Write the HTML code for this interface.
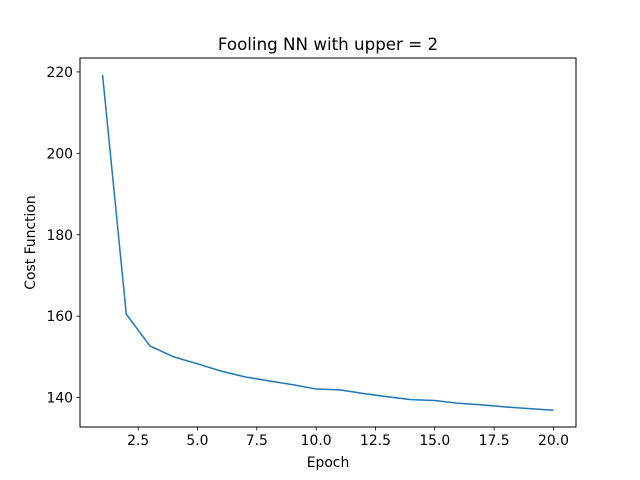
<!DOCTYPE html>
<html><head><meta charset="utf-8"><style>
body{margin:0;background:#fff}
svg{display:block;font-family:"DejaVu Sans","Liberation Sans",sans-serif}
</style></head><body>
<svg id="chart" width="640" height="480" viewBox="0 0 640 480"></svg>
<script>
const epochs=[1,2,3,4,5,6,7,8,9,10,11,12,13,14,15,16,17,18,19,20];
const costValues=[219.3,160.5,152.7,150.0,148.3,146.5,145.1,144.1,143.2,142.1,141.9,141.0,140.2,139.5,139.3,138.6,138.2,137.7,137.3,136.9];
const xTicks=[2.5,5.0,7.5,10.0,12.5,15.0,17.5,20.0];
const yTicks=[140,160,180,200,220];
const L=80,R=576,T=58,B=427;
const xmin=Math.min(...epochs),xmax=Math.max(...epochs),xm=(xmax-xmin)*0.05;
const ymin=Math.min(...costValues),ymax=Math.max(...costValues),ym=(ymax-ymin)*0.05;
const x0=xmin-xm,x1=xmax+xm,y0=ymin-ym,y1=ymax+ym;
const sx=v=>L+(v-x0)/(x1-x0)*(R-L);
const sy=v=>B-(v-y0)/(y1-y0)*(B-T);
const svg=document.getElementById('chart');
const NS='http://www.w3.org/2000/svg';
function mk(tag,attrs,text){const e=document.createElementNS(NS,tag);for(const k in attrs)e.setAttribute(k,attrs[k]);if(text!==undefined)e.textContent=text;svg.appendChild(e);return e;}
let e;
e=mk('rect',{x:L,y:T,width:R-L,height:B-T,fill:'#fff',stroke:'#000','stroke-width':1});


xTicks.forEach(t=>{const x=sx(t);
e=mk('line',{x1:x,x2:x,y1:B,y2:B+3.5,stroke:'#000','stroke-width':0.8});


e=mk('text',{x:x,y:B+18,'font-size':13.9,'text-anchor':'middle',fill:'#000'},t.toFixed(1));

});
yTicks.forEach(t=>{const y=sy(t);
e=mk('line',{x1:L-3.5,x2:L,y1:y,y2:y,stroke:'#000','stroke-width':0.8});


e=mk('text',{x:L-7,y:y+5,'font-size':13.9,'text-anchor':'end',fill:'#000'},String(t));

});
const pts=epochs.map((v,i)=>sx(v).toFixed(2)+','+sy(costValues[i]).toFixed(2)).join(' ');
e=mk('polyline',{points:pts,fill:'none',stroke:'#1f77b4','stroke-width':1.5,'stroke-linejoin':'round'});


e=mk('text',{x:(L+R)/2,y:50,'font-size':16.7,'text-anchor':'middle'},'Fooling NN with upper = 2');


e=mk('text',{x:(L+R)/2,y:467,'font-size':13.9,'text-anchor':'middle'},'Epoch');


e=mk('text',{x:35,y:(T+B)/2,'font-size':13.9,'text-anchor':'middle',transform:'rotate(-90 35 '+((T+B)/2)+')'},'Cost Function');


</script>
</body></html>
